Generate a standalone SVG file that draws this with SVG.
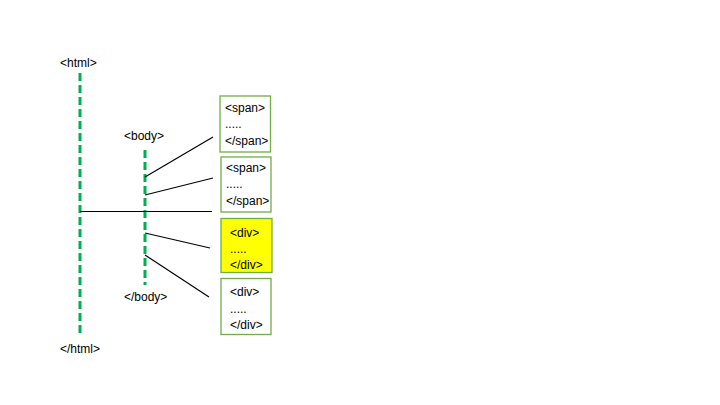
<svg xmlns="http://www.w3.org/2000/svg" width="720" height="405" viewBox="0 0 720 405">
<style>
text{font-family:"Liberation Sans",Arial,sans-serif;font-size:12px;fill:#000}
.tree{stroke:#00B050;stroke-width:3;stroke-dasharray:8,4;fill:none}
.box{stroke:#70AD47;stroke-width:1.3;fill:#fff}
.conn{stroke:#000;stroke-width:1.2;fill:none}
</style>
<rect width="720" height="405" fill="#fff"/>
<g id="html">
<line class="tree" x1="80" y1="73" x2="80" y2="334"/>
<text x="60" y="67">&lt;html&gt;</text>
<text x="60" y="353">&lt;/html&gt;</text>
</g>
<g id="body">
<line class="tree" x1="145" y1="150" x2="145" y2="285"/>
<text x="124" y="140">&lt;body&gt;</text>
<text x="124" y="301">&lt;/body&gt;</text>
</g>
<g id="connectors">
<line class="conn" x1="145" y1="177" x2="213" y2="137"/>
<line class="conn" x1="145" y1="195" x2="213" y2="178"/>
<line class="conn" x1="80" y1="211.5" x2="212" y2="211.5"/>
<line class="conn" x1="145" y1="233" x2="210" y2="248"/>
<line class="conn" x1="145" y1="255" x2="209" y2="297"/>
</g>
<g id="span1">
<rect class="box" x="220" y="96" width="50.5" height="56"/>
<text x="225" y="112">&lt;span&gt;</text>
<text x="225" y="128">.....</text>
<text x="225" y="145">&lt;/span&gt;</text>
</g>
<g id="span2">
<rect class="box" x="221" y="157" width="50" height="55"/>
<text x="226" y="172">&lt;span&gt;</text>
<text x="226" y="188">.....</text>
<text x="226" y="205">&lt;/span&gt;</text>
</g>
<g id="div1">
<rect class="box" x="221" y="218.5" width="51" height="54" style="fill:#FFFF00"/>
<text x="230" y="237">&lt;div&gt;</text>
<text x="230" y="253">.....</text>
<text x="230" y="269">&lt;/div&gt;</text>
</g>
<g id="div2">
<rect class="box" x="221" y="278.5" width="50" height="56"/>
<text x="230" y="296">&lt;div&gt;</text>
<text x="230" y="313">.....</text>
<text x="230" y="329">&lt;/div&gt;</text>
</g>
</svg>
